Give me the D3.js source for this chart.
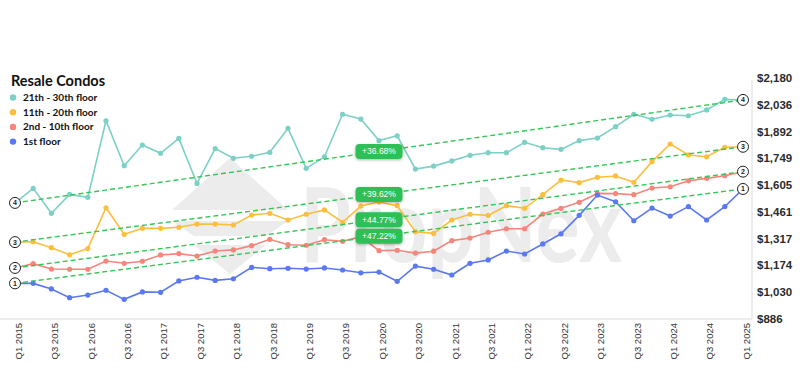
<!DOCTYPE html>
<html>
<head>
<meta charset="utf-8">
<script src="https://cdn.jsdelivr.net/npm/d3@7"></script>
<style>
  body { margin: 0; background: #fff; }
  svg { display: block; }
</style>
</head>
<body>
<div id="chart"></div>
<script>
const quarters = [
  "Q1 2015","Q2 2015","Q3 2015","Q4 2015","Q1 2016","Q2 2016","Q3 2016","Q4 2016",
  "Q1 2017","Q2 2017","Q3 2017","Q4 2017","Q1 2018","Q2 2018","Q3 2018","Q4 2018",
  "Q1 2019","Q2 2019","Q3 2019","Q4 2019","Q1 2020","Q2 2020","Q3 2020","Q4 2020",
  "Q1 2021","Q2 2021","Q3 2021","Q4 2021","Q1 2022","Q2 2022","Q3 2022","Q4 2022",
  "Q1 2023","Q2 2023","Q3 2023","Q4 2023","Q1 2024","Q2 2024","Q3 2024","Q4 2024",
  "Q1 2025"
];

const floor21to30 = [1508,1586,1452,1554,1538,1950,1708,1819,1775,1855,1613,1800,1748,1759,1780,1909,
  1694,1756,1985,1959,1843,1869,1690,1706,1734,1764,1778,1778,1834,1805,1796,1843,1857,1918,1985,1958,
  1981,1977,2008,2065,2062];
const floor11to20 = [1297,1299,1267,1229,1262,1482,1339,1371,1371,1377,1394,1394,1389,1443,1452,1416,
  1447,1470,1404,1491,1513,1493,1353,1344,1416,1447,1441,1493,1479,1552,1631,1617,1646,1653,1619,1730,
  1825,1766,1756,1807,1810];
const floor2to10 = [1158,1181,1152,1151,1151,1195,1183,1194,1228,1235,1222,1249,1255,1278,1312,1283,
  1280,1310,1301,1326,1251,1253,1238,1248,1305,1319,1350,1369,1369,1448,1479,1511,1559,1558,1552,1588,
  1595,1627,1640,1654,1676];
const floor1 = [1075,1075,1045,998,1012,1038,989,1029,1027,1088,1108,1091,1100,1161,1154,1156,
  1152,1158,1147,1132,1136,1086,1168,1151,1120,1183,1201,1249,1233,1287,1342,1441,1550,1514,1412,1480,
  1437,1488,1416,1488,1583];

const seriesNames = ["21th - 30th floor", "11th - 20th floor", "2nd - 10th floor", "1st floor"];
const seriesColors = ["#7dd0c6", "#fbbf3d", "#f4867b", "#5b78f3"];
const seriesValues = [floor21to30, floor11to20, floor2to10, floor1];
const trendIds = ["4", "3", "2", "1"];
const growthLabels = ["+36.68%", "+39.62%", "+44.77%", "+47.22%"];
const yTicks = [886, 1030, 1174, 1317, 1461, 1605, 1749, 1892, 2036, 2180];

const width = 800, height = 371;

const svg = d3.select("#chart").append("svg")
  .attr("width", width)
  .attr("height", height)
  .style("font-family", "'Liberation Sans', Arial, sans-serif");

const defs = svg.append("defs");
const shadow = defs.append("filter").attr("id", "shadow")
  .attr("x", "-30%").attr("y", "-50%").attr("width", "160%").attr("height", "200%");
shadow.append("feDropShadow").attr("dx", 0).attr("dy", 1).attr("stdDeviation", 1.5)
  .attr("flood-color", "#000").attr("flood-opacity", 0.3);

const x = d3.scalePoint().domain(quarters).range([15, 743]);
const y = d3.scaleLinear().domain([886, 2180]).range([318.5, 78]);

// watermark
const wm = svg.append("g").attr("fill", "#ececec");
wm.append("polygon").attr("points", "230,158 288,210 172,210");
wm.append("polygon").attr("points", "172,221 288,221 266,236 194,236");
wm.append("polygon").attr("points", "194,245 266,245 230,274");
wm.append("text")
  .attr("x", 300).attr("y", 262)
  .attr("font-family", "Lato, sans-serif")
  .attr("font-weight", 700)
  .attr("font-size", 104)
  .attr("textLength", 322)
  .attr("lengthAdjust", "spacingAndGlyphs")
  .text("PropNex");

// axes frame
svg.append("line").attr("x1", 0).attr("x2", 752).attr("y1", 319).attr("y2", 319)
  .attr("stroke", "#dcdcdc").attr("stroke-width", 1);
svg.append("line").attr("x1", 752).attr("x2", 752).attr("y1", 80).attr("y2", 319)
  .attr("stroke", "#dcdcdc").attr("stroke-width", 1);

// y axis (right)
const yAxis = svg.append("g")
  .attr("transform", "translate(752,0)")
  .call(d3.axisRight(y).tickValues(yTicks).tickSize(0).tickPadding(5)
    .tickFormat(d => "$" + d3.format(",")(d)));
yAxis.select(".domain").remove();
yAxis.selectAll("text")
  .attr("font-size", 11.5)
  .attr("font-weight", 700)
  .attr("fill", "#2b2b2b")
  .attr("font-family", "'Liberation Sans', Arial, sans-serif");

// x axis
const xAxis = svg.append("g")
  .attr("transform", "translate(0,319)")
  .call(d3.axisBottom(x).tickValues(quarters.filter((d, i) => i % 2 === 0)).tickSize(0));
xAxis.select(".domain").remove();
xAxis.selectAll("text")
  .attr("transform", "rotate(-90)")
  .attr("text-anchor", "end")
  .attr("x", -4)
  .attr("y", 3)
  .attr("dy", "0.35em")
  .attr("font-size", 9.5)
  .attr("fill", "#333")
  .attr("font-family", "'Liberation Sans', Arial, sans-serif");

// series lines and points
const line = d3.line().x((d, i) => x(quarters[i])).y(d => y(d));
seriesValues.forEach((vals, s) => {
  const g = svg.append("g");
  g.append("path")
    .datum(vals)
    .attr("d", line)
    .attr("fill", "none")
    .attr("stroke", seriesColors[s])
    .attr("stroke-width", 1.6);
  g.selectAll("circle")
    .data(vals)
    .enter().append("circle")
    .attr("cx", (d, i) => x(quarters[i]))
    .attr("cy", d => y(d))
    .attr("r", 2.6)
    .attr("fill", seriesColors[s]);
});

// trend lines from first to last value
seriesValues.forEach((vals, s) => {
  const first = vals[0], last = vals[vals.length - 1];
  const x0 = x(quarters[0]), x1 = x(quarters[quarters.length - 1]);
  svg.append("line")
    .attr("x1", x0).attr("y1", y(first))
    .attr("x2", x1).attr("y2", y(last))
    .attr("stroke", "#35c654")
    .attr("stroke-width", 1.4)
    .attr("stroke-dasharray", "5,3");
});

// growth labels at trend midpoints
seriesValues.forEach((vals, s) => {
  const first = vals[0], last = vals[vals.length - 1];
  const mx = (x(quarters[0]) + x(quarters[quarters.length - 1])) / 2;
  const my = (y(first) + y(last)) / 2;
  const g = svg.append("g").attr("transform", `translate(${mx},${my})`);
  g.append("rect")
    .attr("x", -23.5).attr("y", -7.5)
    .attr("width", 47).attr("height", 15)
    .attr("rx", 4)
    .attr("fill", "#2fbf57")
    .attr("filter", "url(#shadow)");
  g.append("text")
    .attr("text-anchor", "middle")
    .attr("dy", "0.35em")
    .attr("font-size", 8.5)
    .attr("fill", "#fff")
    .text(growthLabels[s]);
});

// numbered end markers
seriesValues.forEach((vals, s) => {
  const ends = [[x(quarters[0]), y(vals[0])], [x(quarters[quarters.length - 1]), y(vals[vals.length - 1])]];
  ends.forEach(p => {
    const g = svg.append("g").attr("transform", `translate(${p[0]},${p[1]})`);
    g.append("circle").attr("r", 5.5).attr("fill", "#fff").attr("stroke", "#222").attr("stroke-width", 1);
    g.append("text")
      .attr("text-anchor", "middle")
      .attr("dy", "0.35em")
      .attr("font-size", 7)
      .attr("font-weight", 700)
      .attr("fill", "#222")
      .text(trendIds[s]);
  });
});

// title + legend
svg.append("text")
  .attr("x", 11).attr("y", 86)
  .attr("font-family", "Lato, sans-serif")
  .attr("font-weight", 700)
  .attr("font-size", 14.5)
  .attr("fill", "#111")
  .text("Resale Condos");

const legend = svg.append("g").attr("transform", "translate(13,97.5)");
seriesNames.forEach((name, i) => {
  const row = legend.append("g").attr("transform", `translate(0,${i * 14.7})`);
  row.append("circle").attr("r", 3.2).attr("fill", seriesColors[i]);
  row.append("text")
    .attr("x", 10)
    .attr("dy", "0.35em")
    .attr("font-family", "Lato, sans-serif")
    .attr("font-weight", 700)
    .attr("font-size", 10)
    .attr("fill", "#111")
    .text(name);
});
</script>
</body>
</html>
